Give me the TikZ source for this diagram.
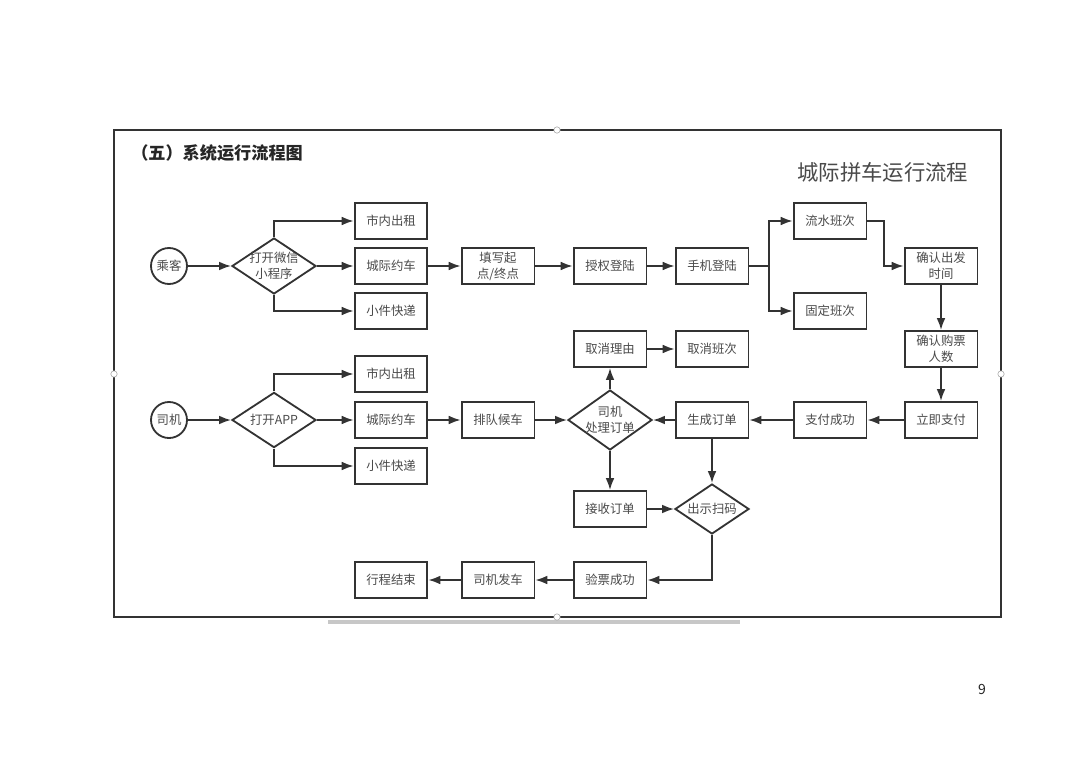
\documentclass[tikz,border=0pt]{standalone}
\usepackage{fontspec}
\setmainfont{Noto Sans CJK SC}
\newfontfamily\cjk{Noto Sans CJK SC}
\usetikzlibrary{shapes.geometric,arrows.meta}
\definecolor{ln}{HTML}{333333}
\definecolor{tx}{HTML}{4A4A4A}
\tikzset{
  x=0.025cm,y=-0.025cm,
  box/.style={draw=ln,line width=1.3pt,rectangle,minimum width=1.82cm,minimum height=0.9cm,inner sep=1pt,align=center,text=tx,font=\cjk\fontsize{8.8}{11.5}\selectfont},
  dia/.style={draw=ln,line width=1.3pt,diamond,inner sep=0pt},
  dtext/.style={align=center,text=tx,font=\cjk\fontsize{8.8}{11.5}\selectfont,inner sep=0pt},
  circ/.style={draw=ln,line width=1.3pt,circle,minimum size=0.9cm,inner sep=0pt,text=tx,font=\cjk\fontsize{8.8}{11}\selectfont},
  arr/.style={draw=ln,line width=1.3pt,-{Latex[length=0.3cm,width=0.22cm]}},
  lnk/.style={draw=ln,line width=1.3pt},
  handle/.style={draw=gray!70,fill=white,circle,inner sep=0pt,minimum size=0.16cm,line width=0.4pt},
}
\begin{document}
\begin{tikzpicture}
\useasboundingbox (0,0) rectangle (1080,763);
\fill[white] (0,0) rectangle (1080,763);
% frame
\draw[draw=ln,line width=1.3pt] (114,130) rectangle (1001,617);
\draw[draw=black!22,line width=2.2pt] (328,622) -- (740,622);
\node[handle] (h1) at (557,130) {};
\node[handle] (h2) at (114,374) {};
\node[handle] (h3) at (1001,374) {};
\node[handle] (h4) at (557,617) {};
% titles
\node[anchor=west,text=black!85,font=\cjk\bfseries\fontsize{12.2}{14}\selectfont,inner sep=0pt] (t1) at (131,153) {（五）系统运行流程图};
\node[anchor=west,text=tx,font=\cjk\fontsize{15.2}{17}\selectfont,inner sep=0pt] (t2) at (797,172) {城际拼车运行流程};
\node[text=black!85,font=\cjk\fontsize{10}{12}\selectfont,inner sep=0pt] (pg) at (982,689) {9};
% passenger row
\node[circ] (pass) at (169,266) {乘客};
\node[dia,minimum width=2.1cm,minimum height=1.4cm] (d1) at (274,266) {};
\node[dtext] (d1t) at (d1) {打开微信\\小程序};
\node[box] (p1) at (391,221) {市内出租};
\node[box] (p2) at (391,266) {城际约车};
\node[box] (p3) at (391,311) {小件快递};
\node[box] (fill) at (498,266) {填写起\\点/终点};
\node[box] (auth) at (610,266) {授权登陆};
\node[box] (phone) at (712,266) {手机登陆};
\coordinate (j1) at (769,266);
\node[box] (ls) at (830,221) {流水班次};
\node[box] (gd) at (830,311) {固定班次};
\node[box] (cf) at (941,266) {确认出发\\时间};
\node[box] (cg) at (941,349) {确认购票\\人数};
\node[box] (pay) at (941,420) {立即支付};
\node[box] (ok) at (830,420) {支付成功};
\node[box] (gen) at (712,420) {生成订单};
\node[dia,minimum width=2.1cm,minimum height=1.5cm] (d3) at (610,420) {};
\node[dtext] (d3t) at (d3) {司机\\处理订单};
\node[box] (cr) at (610,349) {取消理由};
\node[box] (cb) at (712,349) {取消班次};
\node[box] (wait) at (498,420) {排队候车};
% driver row
\node[circ] (drv) at (169,420) {司机};
\node[dia,minimum width=2.1cm,minimum height=1.38cm] (d2) at (274,420) {};
\node[dtext] (d2t) at (d2) {打开APP};
\node[box] (q1) at (391,374) {市内出租};
\node[box] (q2) at (391,420) {城际约车};
\node[box] (q3) at (391,466) {小件快递};
\node[box] (recv) at (610,509) {接收订单};
\node[dia,minimum width=1.85cm,minimum height=1.25cm] (d4) at (712,509) {};
\node[dtext] (d4t) at (d4) {出示扫码};
\node[box] (chk) at (610,580) {验票成功};
\node[box] (go) at (498,580) {司机发车};
\node[box] (end) at (391,580) {行程结束};
% passenger connectors
\draw[arr] (pass) -- (d1);
\draw[arr] (d1.north) |- (p1.west);
\draw[arr] (d1) -- (p2);
\draw[arr] (d1.south) |- (p3.west);
\draw[arr] (p2) -- (fill);
\draw[arr] (fill) -- (auth);
\draw[arr] (auth) -- (phone);
\draw[lnk] (phone.east) -- (j1);
\draw[arr] (j1) |- (ls.west);
\draw[arr] (j1) |- (gd.west);
\draw[arr] (ls.east) -- ++(17,0) |- (cf.west);
\draw[arr] (cf) -- (cg);
\draw[arr] (cg) -- (pay);
\draw[arr] (pay) -- (ok);
\draw[arr] (ok) -- (gen);
\draw[arr] (gen) -- (d3);
\draw[arr] (d3) -- (cr);
\draw[arr] (cr) -- (cb);
\draw[arr] (d3) -- (recv);
\draw[arr] (gen) -- (d4);
\draw[arr] (recv) -- (d4);
\draw[arr] (d4.south) |- (chk.east);
\draw[arr] (chk) -- (go);
\draw[arr] (go) -- (end);
% driver connectors
\draw[arr] (drv) -- (d2);
\draw[arr] (d2.north) |- (q1.west);
\draw[arr] (d2) -- (q2);
\draw[arr] (d2.south) |- (q3.west);
\draw[arr] (q2) -- (wait);
\draw[arr] (wait) -- (d3);
\end{tikzpicture}
\end{document}
